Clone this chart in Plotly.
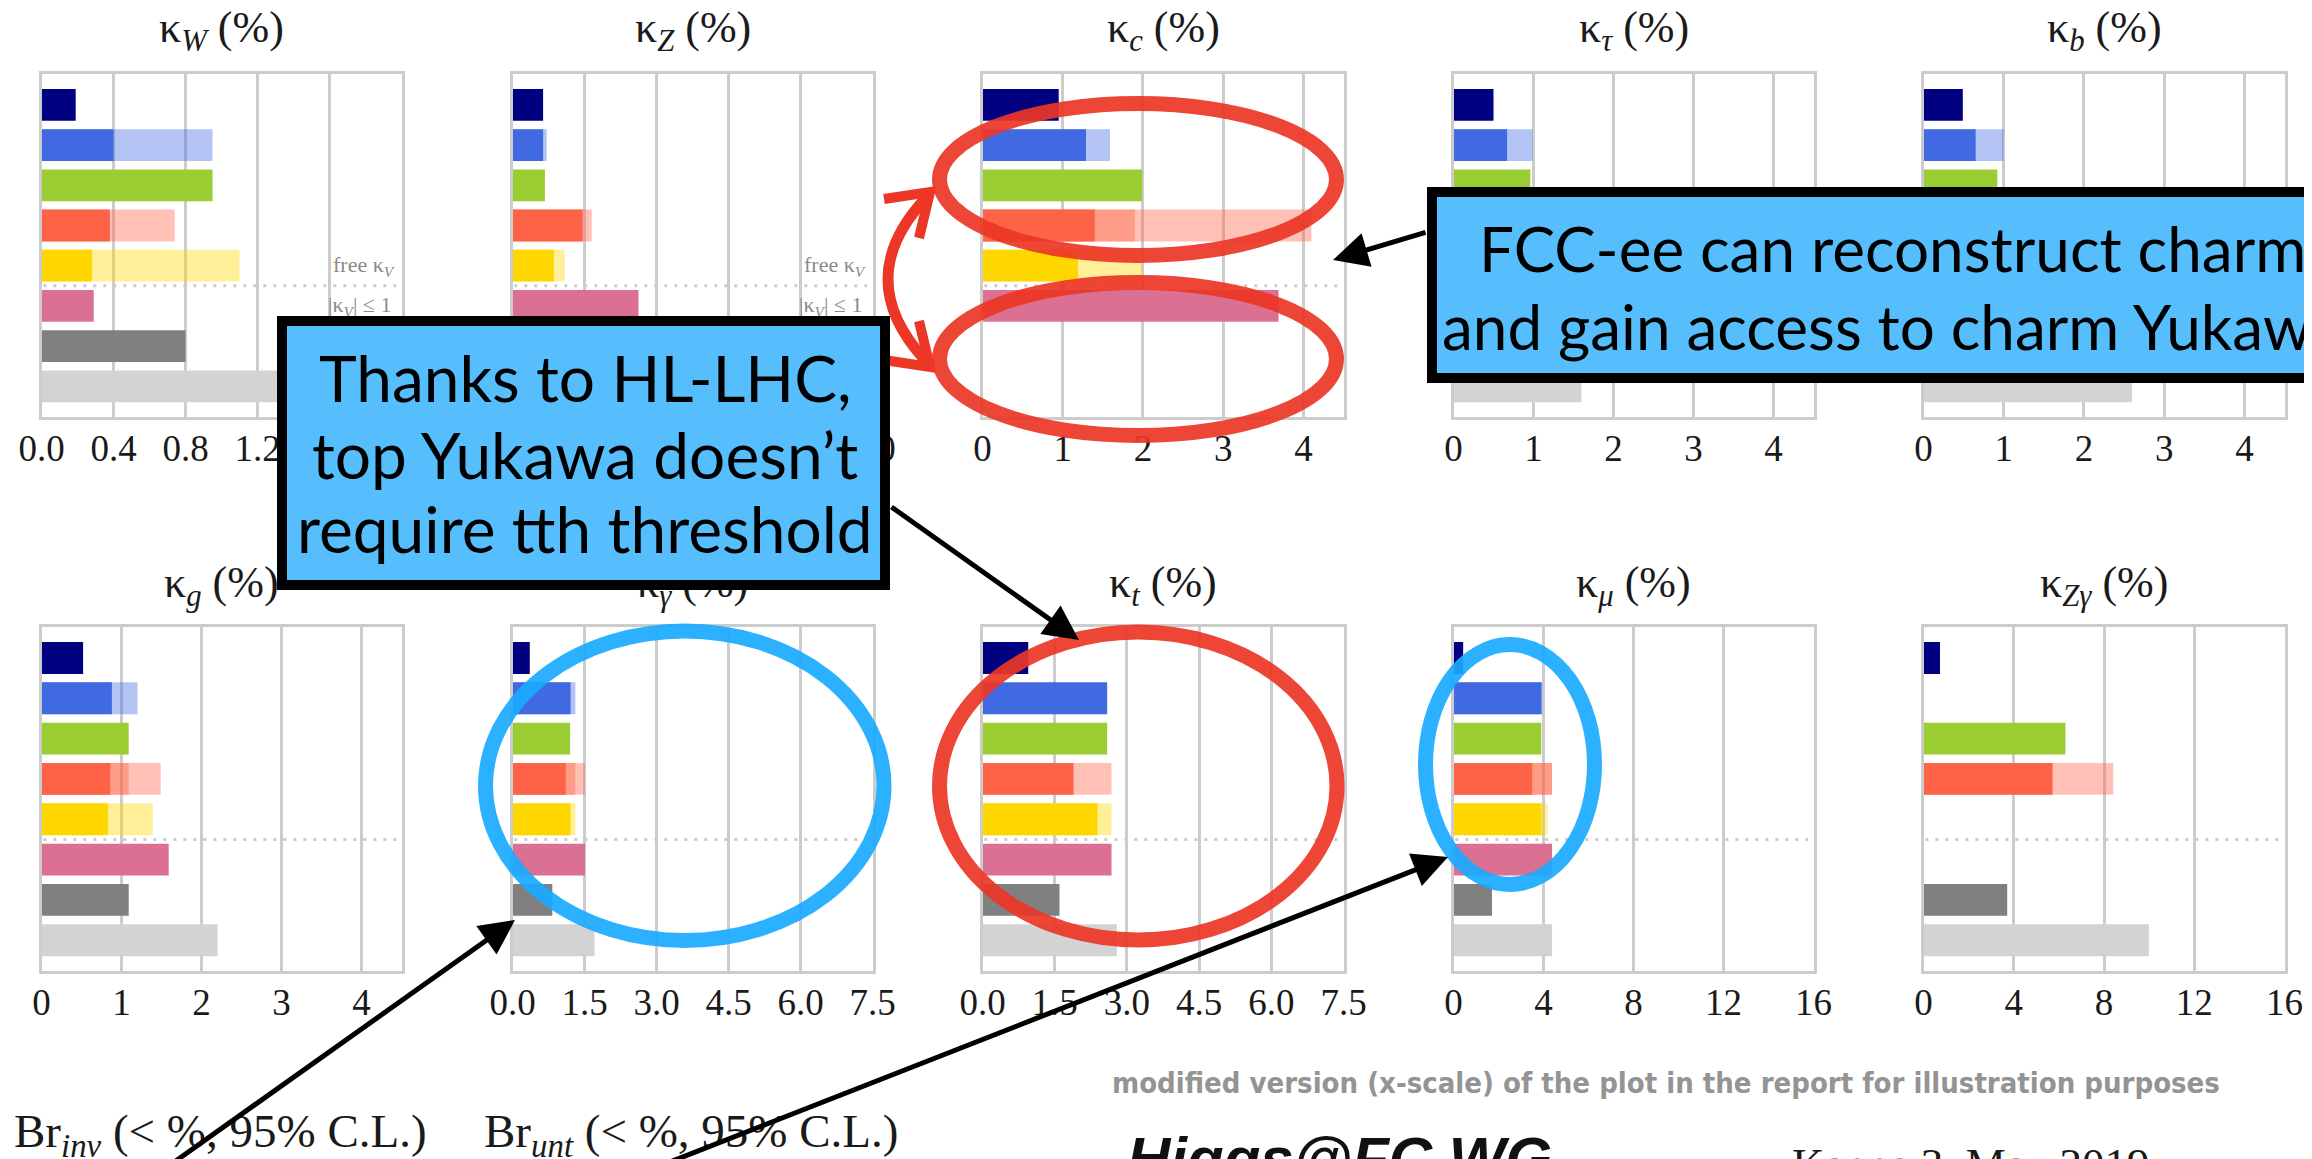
import plotly.graph_objects as go

W, H = 2312, 1159
OFF = 8  # page body margin offset


def px(x):
    return (x - OFF) / W


def py(y):
    return 1 - (y - OFF) / H


# ---------------- data ----------------
couplings = ["W", "Z", "c", "τ", "b", "g", "γ", "t", "μ", "Zγ"]
titles = ["κ<sub><i>W</i></sub> (%)", "κ<sub><i>Z</i></sub> (%)", "κ<sub><i>c</i></sub> (%)",
          "κ<sub><i>τ</i></sub> (%)", "κ<sub><i>b</i></sub> (%)", "κ<sub><i>g</i></sub> (%)",
          "κ<sub><i>γ</i></sub> (%)", "κ<sub><i>t</i></sub> (%)", "κ<sub><i>μ</i></sub> (%)",
          "κ<sub><i>Zγ</i></sub> (%)"]
rows = ["FCC-ee/eh/hh", "FCC-ee", "CEPC", "CLIC", "ILC", "LHeC", "HE-LHC", "HL-LHC"]

fcc_all   = [0.19, 0.17, 0.95, 0.50, 0.49, 0.52, 0.36, 0.95, 0.43, 0.73]
fccee_365 = [0.40, 0.17, 1.29, 0.67, 0.65, 0.88, 1.21, 2.59, 3.91, None]
fccee_240 = [0.95, 0.19, 1.59, 0.99, 1.00, 1.20, 1.31, None, 3.95, None]
cepc      = [0.95, 0.18, 1.99, 0.96, 0.92, 1.09, 1.20, 2.59, 3.90, 6.29]
clic_3000 = [0.38, 0.39, 1.40, 0.88, 0.58, 0.86, 1.11, 1.89, 3.50, 5.72]
clic_1500 = [None, None, 1.90, 1.02, 0.77, 1.09, 1.31, None, 4.38, None]
clic_380  = [0.74, 0.44, 4.10, 1.30, 1.20, 1.49, 1.51, 2.68, 4.38, 8.41]
ilc_500   = [0.28, 0.23, 1.19, 0.70, 0.58, 0.83, 1.21, 2.39, 3.91, None]
ilc_250   = [1.10, 0.29, 1.99, 1.10, 1.05, 1.39, 1.31, 2.68, 4.19, None]
lhec      = [0.29, 0.70, 3.69, 1.10, 0.80, 1.59, 1.51, 2.68, 4.38, None]
he_lhc    = [0.80, 0.75, None, 1.00, 1.60, 1.09, 0.83, 1.60, 1.71, 3.71]
hl_lhc    = [1.70, 1.50, None, 1.60, 2.60, 2.20, 1.71, 2.79, 4.38, 9.99]

x_max = [2.0, 2.0, 4.5, 4.5, 4.5, 4.5, 7.5, 7.5, 16, 16]
tick_values = [
    [0, 0.4, 0.8, 1.2, 1.6, 2.0], [0, 0.4, 0.8, 1.2, 1.6, 2.0],
    [0, 1, 2, 3, 4], [0, 1, 2, 3, 4], [0, 1, 2, 3, 4], [0, 1, 2, 3, 4],
    [0, 1.5, 3.0, 4.5, 6.0, 7.5], [0, 1.5, 3.0, 4.5, 6.0, 7.5],
    [0, 4, 8, 12, 16], [0, 4, 8, 12, 16],
]
tick_formats = [".1f", ".1f", "d", "d", "d", "d", ".1f", ".1f", "d", "d"]

# ---------------- styles ----------------
solid_series = [fcc_all, fccee_365, cepc, clic_3000, ilc_500, lhec, he_lhc, hl_lhc]
row_colors = ["#000080", "#4169E1", "#9ACD32", "#FF6347", "#FFD700", "#DB7093", "#808080", "#D3D3D3"]
light_layers = [[(1, fccee_240), (3, clic_380), (4, ilc_250)], [(3, clic_1500)]]

frame_x0 = [40, 511, 981, 1452, 1922]
frame_x1 = [403, 874, 1345, 1815, 2286]
frame_y = [(72, 418), (625, 972)]
title_y = [30, 585]

SERIF = "Liberation Serif, Times New Roman, serif"
GRID = "#CCCCCC"


def rgba(hexc, a):
    h = hexc.lstrip("#")
    r, g, b = int(h[0:2], 16), int(h[2:4], 16), int(h[4:6], 16)
    return f"rgba({r},{g},{b},{a})"


fig = go.Figure()
layout = dict(
    template="none",
    width=W, height=H, autosize=False,
    margin=dict(l=0, r=0, t=0, b=0, pad=0, autoexpand=False),
    paper_bgcolor="white", plot_bgcolor="white",
    barmode="overlay", showlegend=False,
)
shapes = []
annotations = []

for i in range(10):
    n = "" if i == 0 else str(i + 1)
    xa, ya = "x" + n, "y" + n
    # translucent lower-energy stages
    for layer in light_layers:
        ys, xs, cs = [], [], []
        for r, vals in layer:
            if vals[i] is not None:
                ys.append(rows[r]); xs.append(vals[i]); cs.append(rgba(row_colors[r], 0.4))
        fig.add_trace(go.Bar(orientation="h", x=xs, y=ys, width=0.79,
                             marker=dict(color=cs, line=dict(width=0)),
                             xaxis=xa, yaxis=ya, hoverinfo="skip"))
    ys, xs, cs = [], [], []
    for r in range(8):
        v = solid_series[r][i]
        if v is not None:
            ys.append(rows[r]); xs.append(v); cs.append(row_colors[r])
    fig.add_trace(go.Bar(orientation="h", x=xs, y=ys, width=0.79,
                         marker=dict(color=cs, line=dict(width=0)),
                         xaxis=xa, yaxis=ya, hoverinfo="skip"))

    row, col = divmod(i, 5)
    x0, x1 = frame_x0[col], frame_x1[col]
    y0, y1 = frame_y[row]
    layout["xaxis" + n] = dict(
        domain=[px(x0 + 1.5), px(x1 - 1.5)], range=[0, x_max[i]], anchor=ya,
        tickvals=tick_values[i], tickformat=tick_formats[i],
        showgrid=True, gridcolor=GRID, gridwidth=3, zeroline=False,
        showline=True, mirror=True, linecolor=GRID, linewidth=3,
        ticks="", ticklabelstandoff=-3, automargin=False,
        tickfont=dict(family=SERIF, size=37, color="#1a1a1a"),
        fixedrange=True,
    )
    layout["yaxis" + n] = dict(
        domain=[py(y1 - 1.5), py(y0 + 1.5)], type="category",
        categoryorder="array", categoryarray=rows, range=[7.75, -0.78],
        anchor=xa, showgrid=False, zeroline=False, showticklabels=False,
        showline=True, mirror=True, linecolor=GRID, linewidth=3, ticks="",
        automargin=False, fixedrange=True,
    )
    shapes.append(dict(type="line", xref=xa + " domain", yref=ya, x0=0.005, x1=0.99,
                       y0=4.5, y1=4.5, line=dict(color=GRID, width=3, dash="3px,7px"),
                       layer="above"))
    annotations.append(dict(text=titles[i], xref="paper", yref="paper",
                            x=px((x0 + x1) / 2), y=py(title_y[row]), xanchor="center",
                            yanchor="middle", showarrow=False,
                            font=dict(family=SERIF, size=44, color="#1a1a1a")))

# scenario labels inside κW, κZ panels
for col in (0, 1):
    xr = frame_x1[col]
    annotations.append(dict(text="free κ<sub><i>V</i></sub>", xref="paper", yref="paper",
                            x=px(xr - 6), y=py(266), xanchor="right", yanchor="middle",
                            showarrow=False, font=dict(family=SERIF, size=22, color="#8a8a8a")))
    annotations.append(dict(text="|κ<sub><i>V</i></sub>| ≤ 1", xref="paper", yref="paper",
                            x=px(xr - 10), y=py(306), xanchor="right", yanchor="middle",
                            showarrow=False, font=dict(family=SERIF, size=22, color="#8a8a8a")))

# bottom texts
annotations += [
    dict(text="Br<sub><i>inv</i></sub> (< %, 95% C.L.)", xref="paper", yref="paper",
         x=px(12), y=py(1134), xanchor="left", yanchor="middle", showarrow=False,
         font=dict(family=SERIF, size=47, color="#1a1a1a")),
    dict(text="Br<sub><i>unt</i></sub> (< %, 95% C.L.)", xref="paper", yref="paper",
         x=px(482), y=py(1134), xanchor="left", yanchor="middle", showarrow=False,
         font=dict(family=SERIF, size=47, color="#1a1a1a")),
    dict(text="<b>modified version (x-scale) of the plot in the report for illustration purposes</b>",
         xref="paper", yref="paper", x=px(1110), y=py(1083), xanchor="left", yanchor="middle",
         showarrow=False,
         font=dict(family="Liberation Sans Narrow, DejaVu Sans Condensed, Arial Narrow, sans-serif",
                   size=29, color="#949494")),
    dict(text="<b><i>Higgs@FC WG</i></b>", xref="paper", yref="paper",
         x=px(1125), y=py(1158), xanchor="left", yanchor="middle", showarrow=False,
         font=dict(family="Liberation Sans, Arial, sans-serif", size=60, color="#111111")),
    dict(text="Kappa 3, May 2019", xref="paper", yref="paper",
         x=px(1790), y=py(1164), xanchor="left", yanchor="middle", showarrow=False,
         font=dict(family=SERIF, size=45, color="#1a1a1a")),
]

# callout boxes: frame first, then one annotation per text line
BOXFILL = "#56BEFD"
BOXFONT = "Lato, Open Sans, sans-serif"
boxes = [
    # (left, top, right, bottom, centre x, font size, [(line, centre y), ...])
    (277, 316, 890, 590, 585, 64,
     [("Thanks to HL-LHC,", 377), ("top Yukawa doesn’t", 454), ("require tth threshold", 528)]),
    (1427, 187, 2351, 383, 1892, 62,
     [("FCC-ee can reconstruct charm", 248), ("and gain access to charm Yukawa", 326)]),
]
for bl, bt, br, bb, bcx, fs, lines in boxes:
    annotations.append(dict(
        text=" ", xref="paper", yref="paper", x=px(bl), y=py(bt), xanchor="left", yanchor="top",
        width=br - bl - 20, height=bb - bt - 20, showarrow=False,
        bgcolor=BOXFILL, bordercolor="black", borderwidth=10, borderpad=0,
        font=dict(family=BOXFONT, size=10, color="black")))
    for txt, ly in lines:
        annotations.append(dict(
            text=txt, xref="paper", yref="paper", x=px(bcx), y=py(ly),
            xanchor="center", yanchor="middle", showarrow=False,
            font=dict(family=BOXFONT, size=fs, color="black")))

# highlight ellipses
RED = "#EC3626"
BLUE = "#1AABFF"
ellipses = [
    (939.5, 103.5, 1336.5, 255.5, RED),
    (939.5, 282.5, 1336.5, 435.5, RED),
    (485.5, 631, 884, 940.5, BLUE),
    (939.5, 632, 1337, 940, RED),
    (1425.5, 644.5, 1594.5, 884.5, BLUE),
]
for ex0, ey0, ex1, ey1, c in ellipses:
    shapes.append(dict(type="circle", xref="paper", yref="paper",
                       x0=px(ex0), x1=px(ex1), y0=py(ey1), y1=py(ey0),
                       line=dict(color=c, width=15), opacity=0.92, layer="above"))


# red curved double arrow
def P(x, y):
    return f"{px(x):.6f},{py(y):.6f}"


shapes.append(dict(type="path", xref="paper", yref="paper",
                   path=f"M {P(925, 199)} Q {P(851, 279)} {P(925, 360)}",
                   line=dict(color=RED, width=11), layer="above"))
shapes.append(dict(type="path", xref="paper", yref="paper",
                   path=f"M {P(884, 199)} L {P(930, 192)} L {P(919, 238)}",
                   line=dict(color=RED, width=10), layer="above"))
shapes.append(dict(type="path", xref="paper", yref="paper",
                   path=f"M {P(884, 360)} L {P(930, 367)} L {P(919, 321)}",
                   line=dict(color=RED, width=10), layer="above"))

# black arrows (tip, tail) in pixels
arrows = [
    ((1079, 640), (890, 506)),
    ((1333, 260), (1427, 232)),
    ((515, 920), (170, 1165)),
    ((1448, 857), (670, 1162)),
]
for (tx, ty), (sx, sy) in arrows:
    annotations.append(dict(text="", xref="paper", yref="paper", x=px(tx), y=py(ty),
                            ax=sx - tx, ay=sy - ty, axref="pixel", ayref="pixel",
                            showarrow=True, arrowhead=2, arrowsize=1.4, arrowwidth=5,
                            arrowcolor="black", standoff=0, startstandoff=0))

layout["shapes"] = shapes
layout["annotations"] = annotations
fig.update_layout(**layout)
fig.write_html("out.html", config={"displayModeBar": False})
